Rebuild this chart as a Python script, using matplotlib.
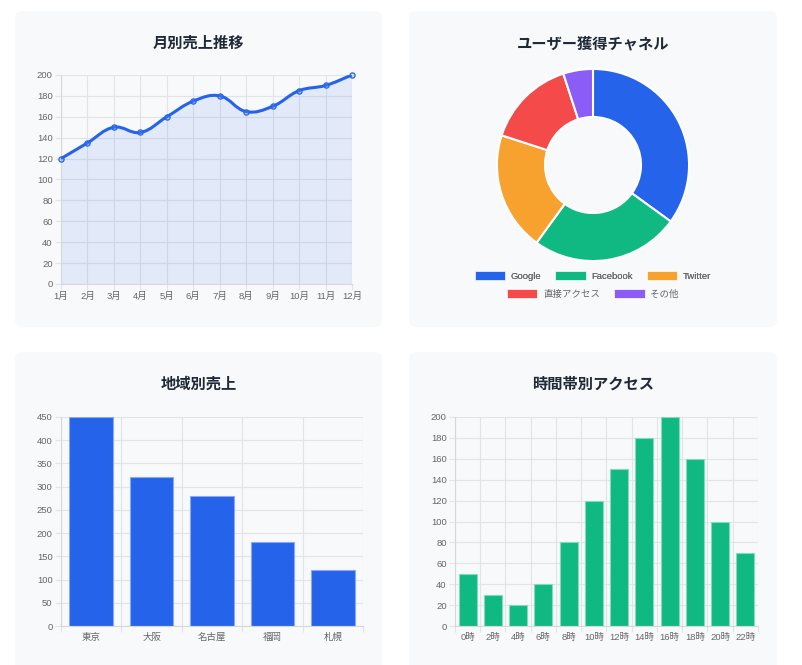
import numpy as np
import matplotlib
matplotlib.use('Agg')
import matplotlib.pyplot as plt
from matplotlib.patches import FancyBboxPatch, Rectangle, PathPatch
from matplotlib.path import Path

plt.rcParams['font.family'] = ['Liberation Sans', 'Noto Sans CJK JP', 'DejaVu Sans']

# data
months = ['1月', '2月', '3月', '4月', '5月', '6月', '7月', '8月', '9月', '10月', '11月', '12月']
sales = [120, 135, 150, 145, 160, 175, 180, 165, 170, 185, 190, 200]

channels = ['Google', 'Facebook', 'Twitter', '直接アクセス', 'その他']
channel_share = [35, 25, 20, 15, 5]
channel_colors = ['#2563eb', '#10b981', '#f7a22f', '#f44a4a', '#8b5cf6']

regions = ['東京', '大阪', '名古屋', '福岡', '札幌']
region_sales = [450, 320, 280, 180, 120]

hours = ['0時', '2時', '4時', '6時', '8時', '10時', '12時', '14時', '16時', '18時', '20時', '22時']
access = [50, 30, 20, 40, 80, 120, 150, 180, 200, 160, 100, 70]

W, H = 803, 665
BLUE = '#2563eb'
GREEN = '#10b981'
CARD = '#f8f9fb'
GRID = '#e3e4e7'
TICK = '#666666'

fig = plt.figure(figsize=(W / 100, H / 100), dpi=100, facecolor='white')


def px_axes(left, top, right, bottom, **kw):
    return fig.add_axes([left / W, 1 - bottom / H, (right - left) / W, (bottom - top) / H], **kw)


def card(left, top, right, bottom, title):
    patch = FancyBboxPatch((left / W, 1 - bottom / H), (right - left) / W, (bottom - top) / H,
                           boxstyle='round,pad=0,rounding_size=0.01', transform=fig.transFigure,
                           facecolor=CARD, edgecolor='none', zorder=-5)
    fig.patches.append(patch)
    fig.text((left + right) / 2 / W, 1 - (top + 32) / H, title, ha='center', va='center',
             fontsize=11, fontweight='bold', color='#1f2937', family=['Noto Sans CJK JP', 'DejaVu Sans'])


card(15, 11, 382, 327, '月別売上推移')
card(409, 11, 777, 327, 'ユーザー獲得チャネル')
card(15, 352, 382, 690, '地域別売上')
card(409, 352, 777, 690, '時間帯別アクセス')


def style_axes(ax):
    ax.set_facecolor('none')
    for s in ['top', 'right']:
        ax.spines[s].set_visible(False)
    for s in ['left', 'bottom']:
        ax.spines[s].set_color('#d6d7da')
        ax.spines[s].set_linewidth(0.8)
    ax.tick_params(axis='both', colors=GRID, labelcolor=TICK, labelsize=6.8, length=4, width=0.8, pad=2)
    ax.set_axisbelow(True)


# line chart
ax1 = px_axes(61, 75, 352, 284)
style_axes(ax1)
x = np.arange(len(months))
ax1.set_xlim(0, len(months) - 1)
ax1.set_ylim(0, 200)
ax1.set_yticks(range(0, 201, 20))
ax1.set_xticks(x)
ax1.set_xticklabels(months)
ax1.grid(True, color=GRID, linewidth=0.8)

# smooth curve like Chart.js (tension 0.4), control points in display space
pts = ax1.transData.transform(np.column_stack([x, sales]))
tension = 0.4
verts = [pts[0]]
codes = [Path.MOVETO]
cps = []
for i in range(len(pts)):
    prev = pts[max(i - 1, 0)]
    nxt = pts[min(i + 1, len(pts) - 1)]
    cur = pts[i]
    d01 = np.hypot(*(cur - prev))
    d12 = np.hypot(*(nxt - cur))
    tot = d01 + d12 if d01 + d12 > 0 else 1
    fa = tension * d01 / tot
    fb = tension * d12 / tot
    cps.append((cur - fa * (nxt - prev), cur + fb * (nxt - prev)))
for i in range(1, len(pts)):
    verts += [cps[i - 1][1], cps[i][0], pts[i]]
    codes += [Path.CURVE4] * 3
verts = ax1.transData.inverted().transform(np.array(verts))
line_path = Path(verts, codes)
fill_verts = np.vstack([verts, [[x[-1], 0], [x[0], 0], verts[0]]])
fill_codes = codes + [Path.LINETO, Path.LINETO, Path.CLOSEPOLY]
ax1.add_patch(PathPatch(Path(fill_verts, fill_codes), facecolor=BLUE, alpha=0.1, edgecolor='none', zorder=2))
ax1.add_patch(PathPatch(line_path, facecolor='none', edgecolor=BLUE, linewidth=2.2, zorder=3))
ax1.scatter(x, sales, s=14, facecolor=(0.37, 0.55, 0.95, 0.3), edgecolor=BLUE, linewidth=0.9, zorder=4, clip_on=False)

# donut
ax2 = px_axes(496, 68, 690, 262)
ax2.pie(channel_share, colors=channel_colors, startangle=90, counterclock=False, radius=1,
        wedgeprops=dict(width=0.5, edgecolor='white', linewidth=1.5))
ax2.set_xlim(-1.01, 1.01)
ax2.set_ylim(-1.01, 1.01)
ax2.set_aspect('equal')

handles = [Rectangle((0, 0), 1, 1, facecolor=c, edgecolor='white', linewidth=0.5) for c in channel_colors]
leg_kw = dict(frameon=False, fontsize=6.8, handlelength=3.2, handleheight=1.0, handletextpad=0.6,
              columnspacing=1.5, labelcolor=TICK, borderpad=0)
leg1 = fig.legend(handles[:3], channels[:3], ncol=3, loc='center', bbox_to_anchor=(593 / W, 1 - 276 / H), **leg_kw)
fig.legend(handles[3:], channels[3:], ncol=2, loc='center', bbox_to_anchor=(593 / W, 1 - 294 / H), **leg_kw)
fig.add_artist(leg1)


def bar_chart(ax, labels, values, color, edge, ymax, step):
    style_axes(ax)
    pos = np.arange(len(labels))
    ax.bar(pos, values, width=0.72, color=color, edgecolor=edge, linewidth=0.8, zorder=2)
    ax.set_xlim(-0.5, len(labels) - 0.5)
    ax.set_ylim(0, ymax)
    ax.set_yticks(range(0, ymax + 1, step))
    ax.set_xticks(pos)
    ax.set_xticklabels(labels)
    ax.tick_params(axis='x', length=0, pad=5)
    ax.set_xticks(np.arange(-0.5, len(labels)), minor=True)
    ax.tick_params(axis='x', which='minor', length=4, color=GRID, width=0.8)
    ax.grid(True, axis='y', color=GRID, linewidth=0.8)
    ax.grid(True, axis='x', which='minor', color=GRID, linewidth=0.8)


ax3 = px_axes(61, 417, 363, 626)
bar_chart(ax3, regions, region_sales, BLUE, '#8aa9f2', 450, 50)

ax4 = px_axes(455, 417, 758, 626)
bar_chart(ax4, hours, access, GREEN, '#7fdcbd', 200, 20)

fig.savefig('out.png', dpi=100, facecolor='white')
